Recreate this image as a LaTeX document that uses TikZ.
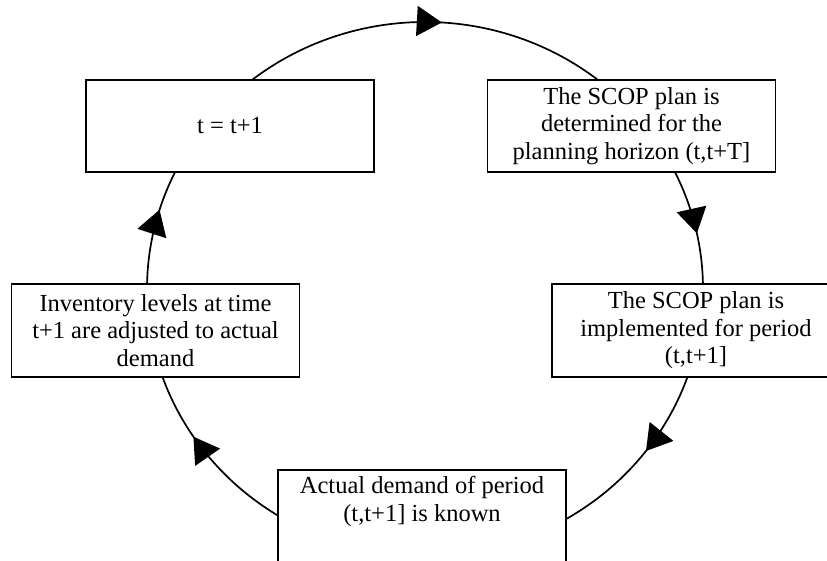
\documentclass[tikz,border=0pt]{standalone}
\usepackage{fontspec}
\setmainfont{Liberation Serif}
\usetikzlibrary{arrows.meta,decorations.markings,backgrounds}
\begin{document}
\begin{tikzpicture}[x=1pt,y=1pt,
  stepbox/.style={draw=black, line width=1.8pt, fill=white,
    minimum width=288pt, minimum height=92.5pt, inner sep=0pt,
    align=center, font=\fontsize{24.5}{27.5}\selectfont},
  flow/.style={line width=1.7pt, draw=black},
  tipat/.style={decoration={markings,
      mark=at position #1 with {\arrow{Triangle[length=25pt,width=30pt]}}},
    postaction={decorate}}]
\useasboundingbox (0,0) rectangle (827,560);

% centre of the elliptical cycle
\coordinate (O) at (425,271);

% process steps
\node[stepbox] (inc)    at (230,434)     {t = t+1};
\node[stepbox] (plan)   at (631.5,434)   {The SCOP plan is\\determined for the\\planning horizon (t,t+T]};
\node[stepbox] (adjust) at (155.5,229.5) {Inventory levels at time\\t+1 are adjusted to actual\\demand};
\node[stepbox] (impl)   at (696,229.5)   {The SCOP plan is\\implemented for period\\(t,t+1]};
\node[stepbox] (known)  at (422,43.5)    {Actual demand of period\\(t,t+1] is known\\\strut};

% clockwise connectors along the ellipse, hidden under the boxes at their ends
\begin{scope}[on background layer]
  \draw[flow, tipat=0.535] ([shift={(140:278pt and 267pt)}]O)
    arc[start angle=140, end angle=40, x radius=278pt, y radius=267pt];
  \draw[flow, tipat=0.536] ([shift={(35:278pt and 267pt)}]O)
    arc[start angle=35, end angle=-8, x radius=278pt, y radius=267pt];
  \draw[flow, tipat=0.416] ([shift={(-10:278pt and 267pt)}]O)
    arc[start angle=-10, end angle=-75, x radius=278pt, y radius=267pt];
  \draw[flow, tipat=0.623] ([shift={(-105:278pt and 267pt)}]O)
    arc[start angle=-105, end angle=-172, x radius=278pt, y radius=267pt];
  \draw[flow, tipat=0.555] ([shift={(185:278pt and 267pt)}]O)
    arc[start angle=185, end angle=145, x radius=278pt, y radius=267pt];
\end{scope}
\end{tikzpicture}
\end{document}
